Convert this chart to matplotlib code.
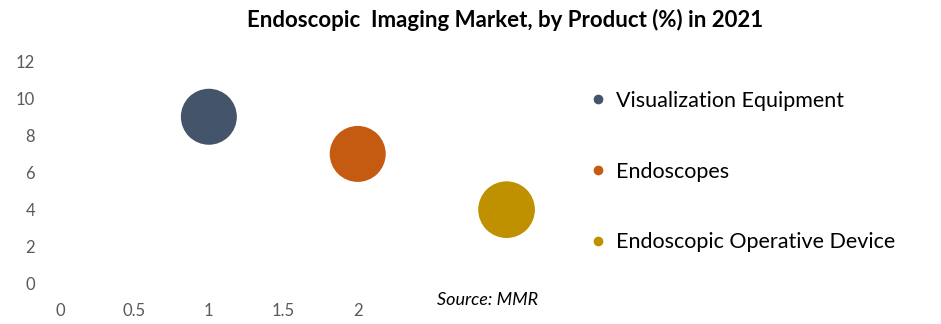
import matplotlib.pyplot as plt
from matplotlib.lines import Line2D

products = ['Visualization Equipment', 'Endoscopes', 'Endoscopic Operative Device']
x_vals = [1, 2, 3]
y_vals = [9, 7, 4]
bubble_sizes = [40, 40, 41]
colors = ['#44546A', '#C55A11', '#BF9000']
x_ticks = [0, 0.5, 1, 1.5, 2]
x_tick_labels = ['0', '0.5', '1', '1.5', '2']
y_ticks = [0, 2, 4, 6, 8, 10, 12]

plt.rcParams['font.family'] = ['Lato', 'DejaVu Sans']

fig = plt.figure(figsize=(9.41, 3.24), dpi=100)
ax = fig.add_axes([60 / 941, 1 - 284 / 324, 521 / 941, 223 / 324])

# bubble size scaled so that a size of 40 gives ~56 px diameter
scale = 1625 / 40
ax.scatter(x_vals, y_vals, s=[b * scale for b in bubble_sizes], c=colors,
           edgecolors='none', zorder=3)

ax.set_xlim(0, 3.5)
ax.set_ylim(0, 12)
ax.set_xticks(x_ticks)
ax.set_xticklabels(x_tick_labels)
ax.set_yticks(y_ticks)
for s in ax.spines.values():
    s.set_visible(False)
ax.tick_params(length=0, labelsize=12, labelcolor='#595959')
ax.tick_params(axis='x', pad=14)
ax.tick_params(axis='y', pad=18)

fig.text(505 / 941, 1 - 20 / 324, 'Endoscopic  Imaging Market, by Product (%) in 2021',
         ha='center', va='center', fontsize=16, fontweight='bold', color='#000000')

fig.text(437 / 941, 1 - 300 / 324, 'Source: MMR', ha='left', va='center',
         fontsize=13, style='italic', color='#000000')

handles = [Line2D([], [], marker='o', linestyle='none', markersize=7,
                  markerfacecolor=c, markeredgecolor='none') for c in colors]
fig.legend(handles, products, loc='upper left', bbox_to_anchor=(592 / 941, 1 - 91 / 324),
           frameon=False, fontsize=15.5, labelspacing=2.35, handlelength=0.6,
           handletextpad=0.5, borderaxespad=0, borderpad=0)

fig.savefig('out.png', dpi=100)
